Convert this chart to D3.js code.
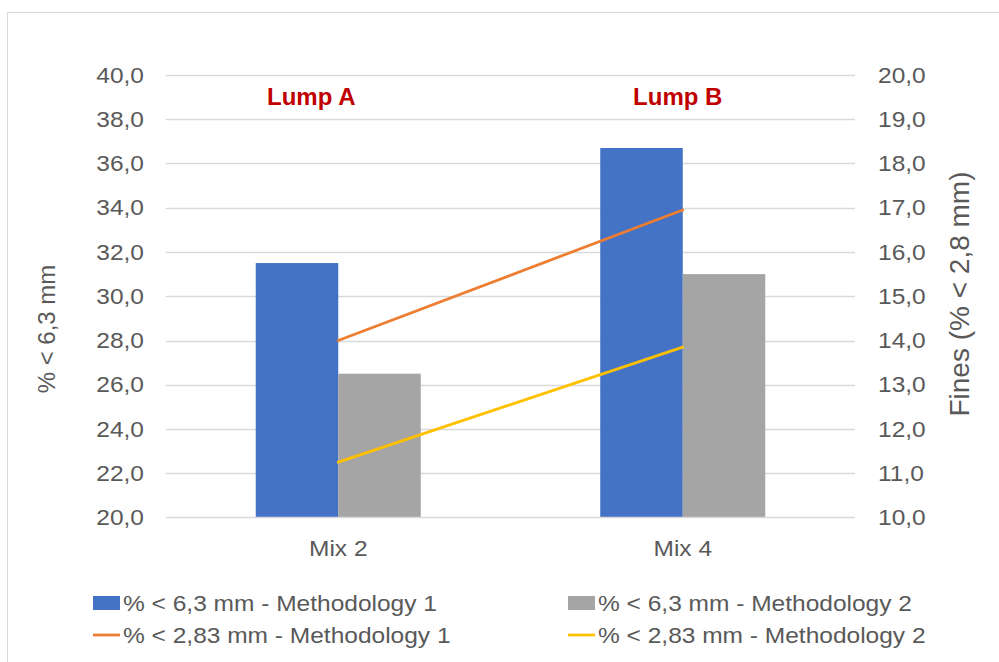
<!DOCTYPE html>
<html>
<head>
<meta charset="utf-8">
<script src="https://cdn.jsdelivr.net/npm/d3@7"></script>
<style>
  html, body { margin: 0; padding: 0; background: #ffffff; }
  svg { display: block; font-family: "Liberation Sans", Arial, sans-serif; }
</style>
</head>
<body>
<svg id="chart" width="999" height="662"></svg>
<script>
// ---- data ----
const categories = ["Mix 2", "Mix 4"];
const barSeriesNames = ["% < 6,3 mm - Methodology 1", "% < 6,3 mm - Methodology 2"];
const barMethod1 = [31.5, 36.7];
const barMethod2 = [26.5, 31.0];
const lineSeriesNames = ["% < 2,83 mm - Methodology 1", "% < 2,83 mm - Methodology 2"];
const lineMethod1 = [14.0, 16.95];
const lineMethod2 = [11.25, 13.85];
const leftTicks = [20, 22, 24, 26, 28, 30, 32, 34, 36, 38, 40];
const rightTicks = [10, 11, 12, 13, 14, 15, 16, 17, 18, 19, 20];
const leftTitle = "% < 6,3 mm";
const rightTitle = "Fines (% < 2,8 mm)";
const annotations = ["Lump A", "Lump B"];

// ---- layout ----
const svg = d3.select("#chart");
const L = 166, R = 855, T = 75, B = 517.5;
const colors = { b1: "#4472c4", b2: "#a5a5a5", l1: "#ed7d31", l2: "#ffc000" };
const textColor = "#595959";
const gridColor = "#d9d9d9";
const SX = 1.14;
const fmt = v => d3.format(".1f")(v).replace(".", ",");

// frame
svg.append("rect").attr("x", 7.5).attr("y", 12.5).attr("width", 1000).attr("height", 700)
  .attr("fill", "#fff").attr("stroke", gridColor).attr("stroke-width", 1);

const x0 = d3.scaleBand().domain(categories).range([L, R]).paddingInner(0.521).paddingOuter(0.2605);
const x1 = d3.scaleBand().domain([0, 1]).range([0, x0.bandwidth()]);
const yL = d3.scaleLinear().domain([20, 40]).range([B, T]);
const yR = d3.scaleLinear().domain([10, 20]).range([B, T]);

function stext(g, str, x, y, opts) {
  return g.append("text")
    .attr("transform", `translate(${x},${y}) scale(${opts.sx || SX},1)`)
    .attr("text-anchor", opts.anchor || "start")
    .attr("font-size", opts.size || 21.5)
    .attr("fill", opts.fill || textColor)
    .attr("font-weight", opts.weight || "normal")
    .text(str);
}

// gridlines
svg.append("g").selectAll("line").data(leftTicks.filter(d => d !== 20)).join("line")
  .attr("x1", L).attr("x2", R)
  .attr("y1", d => Math.round(yL(d)) + 0.5).attr("y2", d => Math.round(yL(d)) + 0.5)
  .attr("stroke", gridColor).attr("stroke-width", 1.3);

// bars
const barData = [];
categories.forEach((c, i) => {
  barData.push({ c, k: 0, v: barMethod1[i], col: colors.b1 });
  barData.push({ c, k: 1, v: barMethod2[i], col: colors.b2 });
});
svg.append("g").selectAll("rect").data(barData).join("rect")
  .attr("x", d => x0(d.c) + x1(d.k))
  .attr("width", x1.bandwidth())
  .attr("y", d => yL(d.v))
  .attr("height", d => B - yL(d.v))
  .attr("fill", d => d.col);

// x axis line
svg.append("line").attr("x1", L).attr("x2", R).attr("y1", B).attr("y2", B)
  .attr("stroke", gridColor).attr("stroke-width", 1.3);

// lines (secondary axis)
const lineGen = d3.line().x((d, i) => x0(categories[i]) + x0.bandwidth() / 2).y(d => yR(d));
[[lineMethod1, colors.l1], [lineMethod2, colors.l2]].forEach(([vals, col]) => {
  svg.append("path").datum(vals).attr("d", lineGen)
    .attr("fill", "none").attr("stroke", col).attr("stroke-width", 2.8).attr("stroke-linecap", "round");
});

// axes labels
const gl = svg.append("g");
leftTicks.forEach(t => stext(gl, fmt(t), L - 22, yL(t) + 7.7, { anchor: "end" }));
const gr = svg.append("g");
rightTicks.forEach(t => stext(gr, fmt(t), R + 23, yR(t) + 7.7, { anchor: "start" }));
const gx = svg.append("g");
categories.forEach(c => stext(gx, c, x0(c) + x0.bandwidth() / 2, 556, { anchor: "middle" }));

// axis titles
svg.append("text").attr("transform", "translate(54.5,329) rotate(-90)")
  .attr("text-anchor", "middle").attr("font-size", 24).attr("fill", textColor).text(leftTitle);
svg.append("text").attr("transform", "translate(969,294) rotate(-90)")
  .attr("text-anchor", "middle").attr("font-size", 28).attr("fill", textColor).text(rightTitle);

// annotations
const annOffsets = [-27, -5];
const ga = svg.append("g");
annotations.forEach((a, i) => stext(ga, a, x0(categories[i]) + x0.bandwidth() / 2 + annOffsets[i], 105,
  { anchor: "middle", size: 24, weight: "bold", fill: "#c00000", sx: 1.0 }));

// legend
const leg = svg.append("g");
const legItems = [
  { name: barSeriesNames[0], type: "rect", col: colors.b1, x: 93, y: 603 },
  { name: barSeriesNames[1], type: "rect", col: colors.b2, x: 568, y: 603 },
  { name: lineSeriesNames[0], type: "line", col: colors.l1, x: 93, y: 635 },
  { name: lineSeriesNames[1], type: "line", col: colors.l2, x: 568, y: 635 }
];
legItems.forEach(it => {
  if (it.type === "rect") {
    leg.append("rect").attr("x", it.x).attr("y", it.y - 7).attr("width", 27).attr("height", 14).attr("fill", it.col);
  } else {
    leg.append("line").attr("x1", it.x).attr("x2", it.x + 27).attr("y1", it.y).attr("y2", it.y)
      .attr("stroke", it.col).attr("stroke-width", 2.8);
  }
  stext(leg, it.name, it.x + 30, it.y + 7.7, { anchor: "start" });
});
</script>
</body>
</html>
